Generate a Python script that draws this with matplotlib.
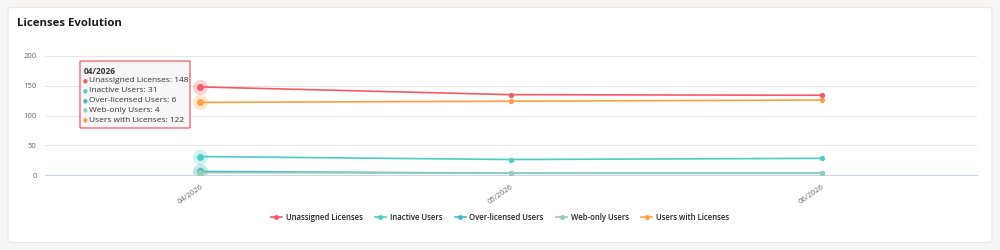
import numpy as np
import matplotlib.pyplot as plt
from matplotlib.patches import FancyBboxPatch

# data
months = ["04/2026", "05/2026", "06/2026"]
unassigned = [148, 135, 134]
inactive = [31, 26, 28]
over_licensed = [6, 3, 3]
web_only = [4, 3, 3]
with_licenses = [122, 124, 126]

names = ["Unassigned Licenses", "Inactive Users", "Over-licensed Users",
         "Web-only Users", "Users with Licenses"]
series = [unassigned, inactive, over_licensed, web_only, with_licenses]
colors = ["#f45b69", "#4ecdc4", "#45b7d1", "#96ceb4", "#ff9f43"]

plt.rcParams['font.family'] = ['Open Sans', 'DejaVu Sans']

fig = plt.figure(figsize=(10, 2.5), dpi=100)
fig.patch.set_facecolor("#f7f6f4")

# card
card = FancyBboxPatch((0.008, 0.03), 0.984, 0.94, boxstyle="round,pad=0,rounding_size=0.006",
                      transform=fig.transFigure, facecolor="white", edgecolor="#e6e6e6",
                      linewidth=0.8, zorder=-5)
fig.patches.append(card)
fig.text(0.017, 0.905, "Licenses Evolution", fontsize=8.2, fontweight="bold",
         color="#1a1a1a", va="center")

ax = fig.add_axes([0.045, 0.30, 0.932, 0.476])
ax.set_facecolor("none")
x = np.arange(len(months))

for vals, c, n in zip(series, colors, names):
    ax.plot(x, vals, color=c, lw=1.2, marker="o", markersize=2.8, label=n, zorder=3)
    # hover state at first point
    ax.plot(x[0], vals[0], "o", color=c, markersize=11, alpha=0.25, zorder=2,
            markeredgewidth=0)
    ax.plot(x[0], vals[0], "o", color=c, markersize=5, zorder=4, markeredgewidth=0)

ax.set_xlim(-0.5, 2.5)
ax.set_ylim(0, 200)
ax.set_yticks([0, 50, 100, 150, 200])
ax.grid(axis="y", color="#e6e6e6", lw=0.8)
ax.set_axisbelow(True)
for s in ["top", "right", "left"]:
    ax.spines[s].set_visible(False)
ax.spines["bottom"].set_color("#ccd6eb")
ax.spines["bottom"].set_linewidth(0.8)
ax.set_xticks(x)
ax.set_xticklabels(months, rotation=35, ha="right", rotation_mode="anchor")
ax.tick_params(axis="both", length=0, labelsize=5.5, labelcolor="#666666")
ax.tick_params(axis="y", pad=6)
ax.tick_params(axis="x", pad=6)

# tooltip
lines_txt = ["Unassigned Licenses: %d" % unassigned[0],
             "Inactive Users: %d" % inactive[0],
             "Over-licensed Users: %d" % over_licensed[0],
             "Web-only Users: %d" % web_only[0],
             "Users with Licenses: %d" % with_licenses[0]]
tip = FancyBboxPatch((0.080, 0.488), 0.110, 0.268, boxstyle="round,pad=0,rounding_size=0.002",
                     transform=fig.transFigure, facecolor="#f7f7f7", edgecolor="#f45b69",
                     linewidth=0.9, zorder=5)
fig.patches.append(tip)
fig.text(0.084, 0.713, months[0], fontsize=6, fontweight="bold", color="#333333",
         va="center", zorder=6)
for i, (t, c) in enumerate(zip(lines_txt, colors)):
    yy = 0.677 - i * 0.0395
    fig.text(0.0855, yy, "\u25CF", fontsize=4, color=c, va="center", ha="center", zorder=6)
    fig.text(0.089, yy, t, fontsize=6, color="#333333", va="center", zorder=6)

leg = fig.legend(loc="center", bbox_to_anchor=(0.5, 0.13), ncol=5, frameon=False,
                 fontsize=5.6, handlelength=1.4, columnspacing=1.6, handletextpad=0.5,
                 markerscale=0.9)
for t in leg.get_texts():
    t.set_color("#222222")
    t.set_fontweight("semibold")

fig.savefig("out.png", dpi=100, facecolor=fig.get_facecolor())
